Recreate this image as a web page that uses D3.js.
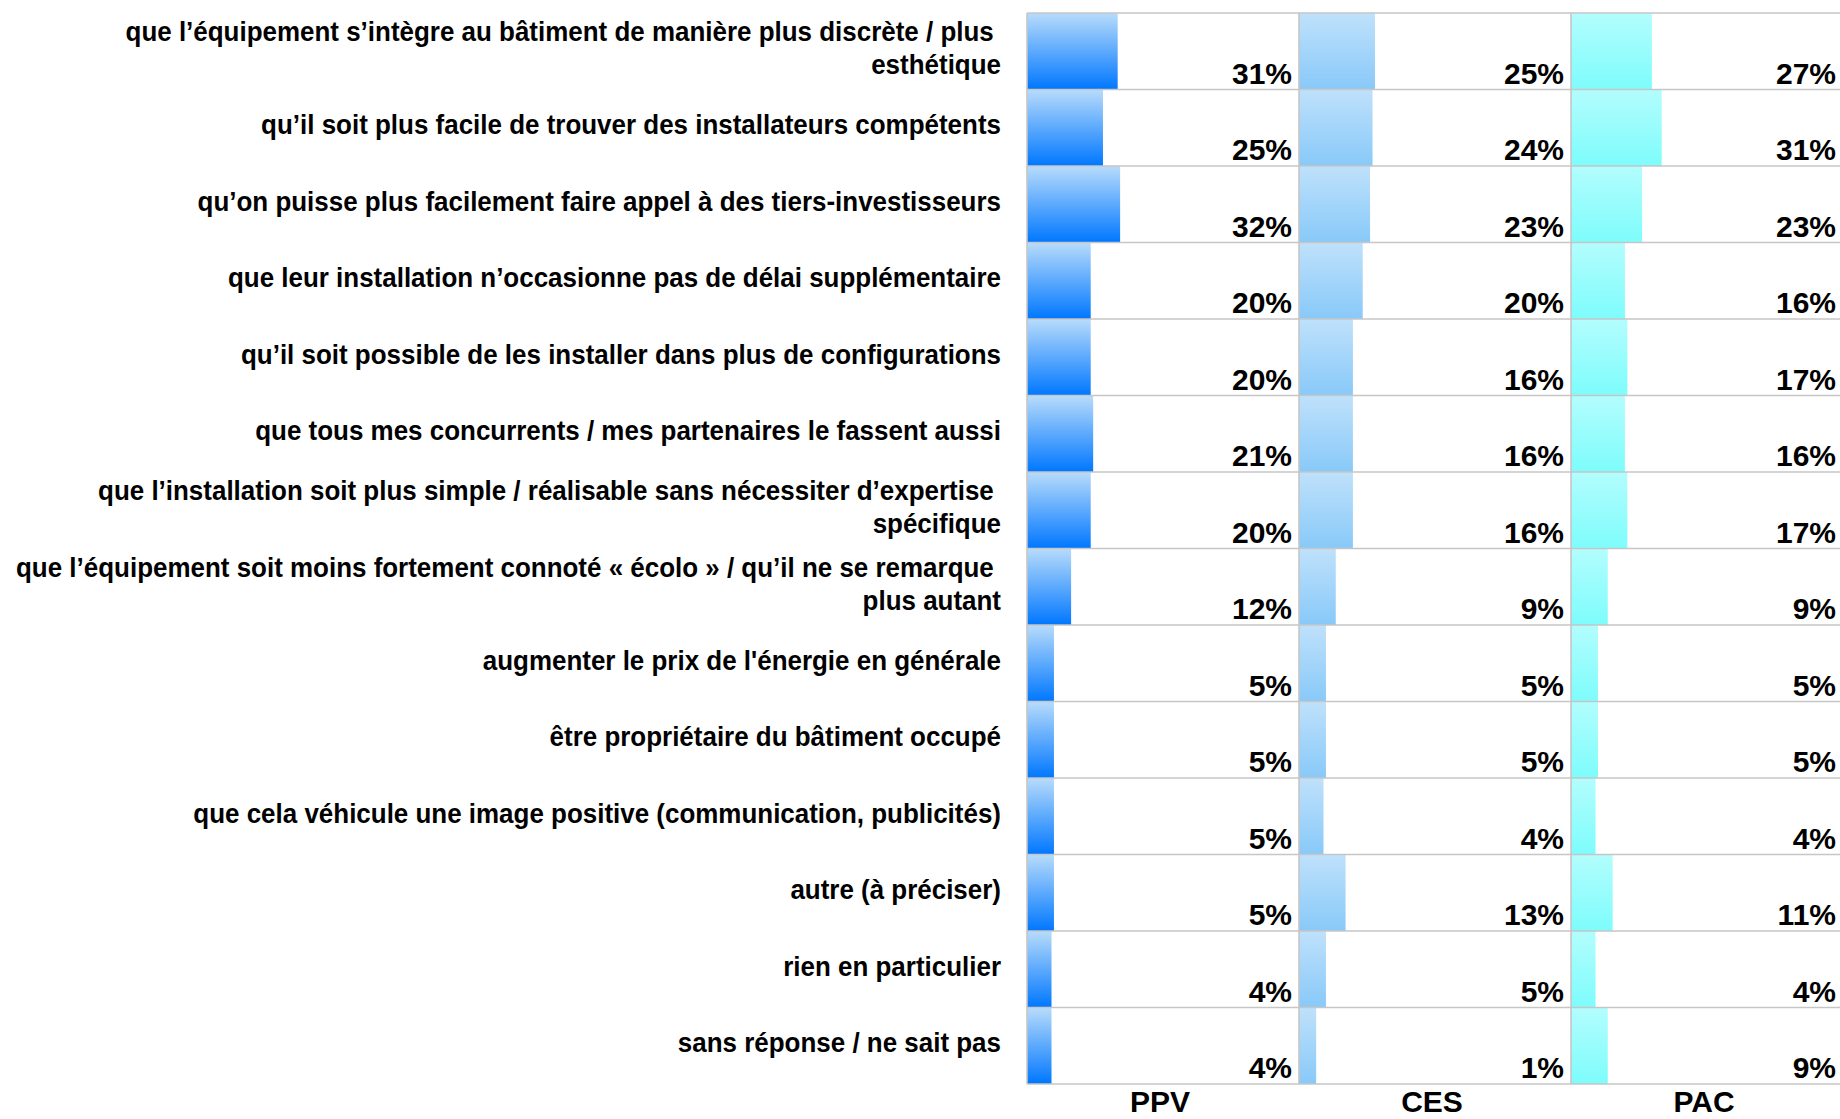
<!DOCTYPE html>
<html>
<head>
<meta charset="utf-8">
<script src="https://cdn.jsdelivr.net/npm/d3@7"></script>
<style>
  html, body { margin: 0; padding: 0; background: #ffffff; }
  svg { display: block; }
  text { font-family: "Liberation Sans", Arial, sans-serif; font-weight: bold; fill: #000; }
</style>
</head>
<body>
<svg id="chart" width="1840" height="1119"></svg>
<script>
// ---- Data ----
const categories = [
  ["que l’équipement s’intègre au bâtiment de manière plus discrète / plus\u00A0", "esthétique"],
  ["qu’il soit plus facile de trouver des installateurs compétents"],
  ["qu’on puisse plus facilement faire appel à des tiers-investisseurs"],
  ["que leur installation n’occasionne pas de délai supplémentaire"],
  ["qu’il soit possible de les installer dans plus de configurations"],
  ["que tous mes concurrents / mes partenaires le fassent aussi"],
  ["que l’installation soit plus simple / réalisable sans nécessiter d’expertise\u00A0", "spécifique"],
  ["que l’équipement soit moins fortement connoté « écolo » / qu’il ne se remarque\u00A0", "plus autant"],
  ["augmenter le prix de l'énergie en générale"],
  ["être propriétaire du bâtiment occupé"],
  ["que cela véhicule une image positive (communication, publicités)"],
  ["autre (à préciser)"],
  ["rien en particulier"],
  ["sans réponse / ne sait pas"]
];
const seriesNames = ["PPV", "CES", "PAC"];
const valuesPPV = [31, 25, 32, 20, 20, 21, 20, 12, 5, 5, 5, 5, 4, 4];
const valuesCES = [25, 24, 23, 20, 16, 16, 16, 9, 5, 5, 4, 13, 5, 1];
const valuesPAC = [27, 31, 23, 16, 17, 16, 17, 9, 5, 5, 4, 11, 4, 9];
const seriesValues = [valuesPPV, valuesCES, valuesPAC];

// ---- Layout ----
const panelLeft = 1027, panelW = 272, plotTop = 13, plotBottom = 1084;
const gradStops = [
  ["#b8dcfb", "#0077ff"],
  ["#bfe1fb", "#88c9f9"],
  ["#b3fdfd", "#7efcfc"]
];

const svg = d3.select("#chart");
const defs = svg.append("defs");
gradStops.forEach((g, i) => {
  const lgr = defs.append("linearGradient").attr("id", "g" + i)
    .attr("x1", 0).attr("y1", 0).attr("x2", 0).attr("y2", 1);
  lgr.append("stop").attr("offset", "0%").attr("stop-color", g[0]);
  lgr.append("stop").attr("offset", "100%").attr("stop-color", g[1]);
});

const y = d3.scaleBand().domain(d3.range(categories.length)).range([plotTop, plotBottom]).padding(0);
const panelX = d3.scaleBand().domain(seriesNames).range([panelLeft, panelLeft + panelW * 3]).padding(0);
const x = d3.scaleLinear().domain([-6, 105]).range([0, panelW]);

// bars
seriesNames.forEach((s, si) => {
  const g = svg.append("g").attr("transform", `translate(${panelX(s)},0)`);
  g.selectAll("rect").data(seriesValues[si]).join("rect")
    .attr("x", 0)
    .attr("y", (d, i) => y(i))
    .attr("width", d => x(d))
    .attr("height", y.bandwidth())
    .attr("fill", `url(#g${si})`);
});

// grid lines
const grid = svg.append("g").attr("stroke", "#c6c6c6").attr("stroke-width", 1.6);
d3.range(categories.length + 1).forEach(i => {
  const yy = i < categories.length ? y(i) : plotBottom;
  grid.append("line").attr("x1", panelLeft).attr("x2", 1840).attr("y1", yy).attr("y2", yy);
});
seriesNames.forEach(s => {
  grid.append("line").attr("x1", panelX(s)).attr("x2", panelX(s)).attr("y1", plotTop).attr("y2", plotBottom);
});

// value labels
seriesNames.forEach((s, si) => {
  svg.append("g").selectAll("text").data(seriesValues[si]).join("text")
    .attr("x", panelX(s) + panelW - 7)
    .attr("y", (d, i) => y(i) + y.bandwidth() - 6)
    .attr("text-anchor", "end")
    .style("font-size", "30px")
    .text(d => d + "%");
});

// category axis labels (bottom)
svg.append("g").selectAll("text").data(seriesNames).join("text")
  .attr("x", d => panelX(d) + panelW / 2 - 3)
  .attr("y", 1112)
  .attr("text-anchor", "middle")
  .style("font-size", "30px")
  .text(d => d);

// row labels
const labelRight = 1001, lineH = 33, labelFont = 27;
const lg = svg.append("g");
const texts = lg.selectAll("text").data(categories).join("text")
  .attr("text-anchor", "end")
  .style("font-size", labelFont + "px");
texts.each(function(lines, i) {
  const t = d3.select(this);
  const cy = y(i) + y.bandwidth() / 2 - 3;
  lines.forEach((ln, j) => {
    t.append("tspan")
      .attr("x", labelRight)
      .attr("y", cy + (j - (lines.length - 1) / 2) * lineH)
      .attr("dy", "0.36em")
      .text(ln);
  });
});
// horizontal condensation to match the narrow face of the original
const ref = lg.selectAll("tspan").filter(function() { return this.textContent.startsWith("que l’équipement soit moins"); }).node();
const factor = 985 / ref.getComputedTextLength();
lg.selectAll("tspan").each(function() {
  const w = this.getComputedTextLength();
  d3.select(this).attr("textLength", w * factor).attr("lengthAdjust", "spacingAndGlyphs");
});
</script>
</body>
</html>
